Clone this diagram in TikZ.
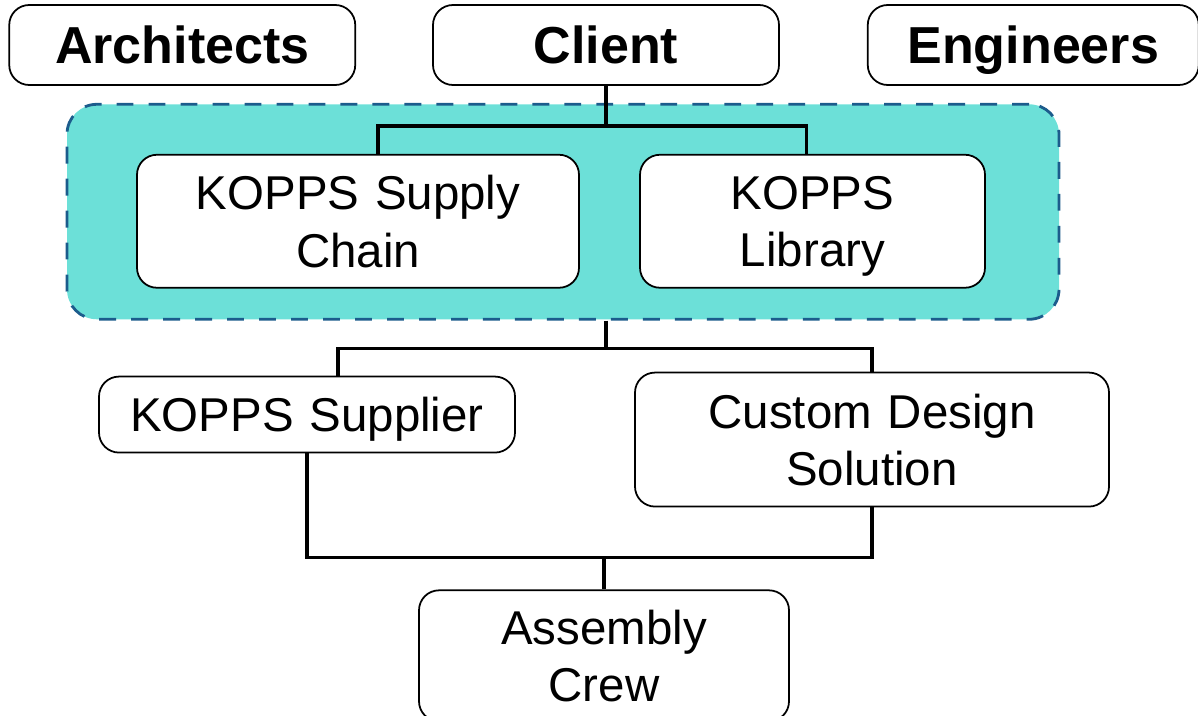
\documentclass[tikz,border=0pt]{standalone}
\usepackage{fontspec}
\setmainfont{Liberation Sans}
\usetikzlibrary{positioning,calc}
\definecolor{regionfill}{RGB}{108,224,216}
\definecolor{regionline}{RGB}{28,92,140}

\begin{document}
\begin{tikzpicture}[
    party/.style={rectangle, rounded corners=0.2cm, draw, line width=0.5pt, fill=white, text centered, inner sep=0pt, minimum height=0.8cm, text depth=0pt, font=\fontsize{14.8}{17}\selectfont\bfseries},
    block/.style={rectangle, rounded corners=0.2cm, draw, line width=0.5pt, fill=white, text centered, inner sep=0pt, text depth=0pt, font=\fontsize{13.5}{16.3}\selectfont},
    tallblock/.style={block, text depth=16.3pt},
    region/.style={rectangle, rounded corners=0.3cm, draw=regionline, fill=regionfill, line width=0.8pt, dash pattern=on 4.8pt off 4.3pt, minimum width=9.92cm, minimum height=2.15cm, inner sep=0pt},
    link/.style={line width=1pt}
]
\useasboundingbox (0,0) rectangle (11.98,-7.16);

% Top row
\node[party, text width=3.46cm] (client) at (6.06,-0.45) {Client};
\node[party, text width=3.46cm, left=0.76cm of client] (architects) {Architects};
\node[party, text width=3.31cm, right=0.87cm of client] (engineers) {Engineers};

% KOPPS region
\node[region, below=0.17cm of client, xshift=-0.43cm] (kopps) {};
\node[tallblock, text width=4.42cm, minimum height=1.33cm, below=0.68cm of client, xshift=-2.48cm] (supply) {KOPPS Supply\\Chain};
\node[tallblock, text width=3.45cm, minimum height=1.33cm, below=0.68cm of client, xshift=2.065cm] (library) {KOPPS\\Library};

% Second tier
\node[block, text width=4.16cm, minimum height=0.76cm, below=0.55cm of kopps, xshift=-2.56cm] (supplier) {KOPPS Supplier};
\node[tallblock, text width=4.74cm, minimum height=1.34cm, below=0.51cm of kopps, xshift=3.09cm] (custom) {Custom Design\\Solution};

% Assembly
\node[tallblock, text width=3.70cm, minimum height=1.31cm, below=0.82cm of custom, xshift=-2.68cm] (crew) {Assembly\\Crew};

% Lines
\draw[link] (client.south) -- ++(0,-0.4) coordinate (fork_top);
\draw[link] ([xshift=0.2cm]supply.north) |- (fork_top) -| ([xshift=-0.06cm]library.north);
\draw[link] (client |- kopps.south) -- ++(0,-0.28) coordinate (fork_mid);
\draw[link] ([xshift=0.31cm]supplier.north) |- (fork_mid) -| (custom.north);
\draw[link] (crew.north) -- ++(0,0.32) coordinate (fork_low);
\draw[link] (supplier.south) |- (fork_low) -| (custom.south);

\end{tikzpicture}
\end{document}
